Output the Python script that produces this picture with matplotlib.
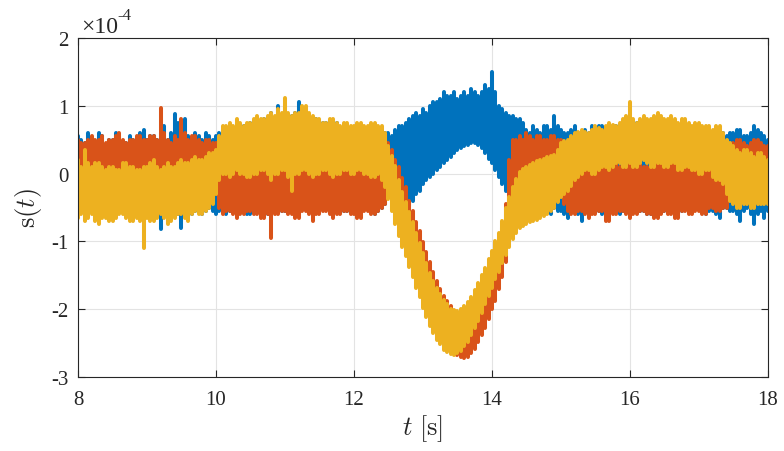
import numpy as np
import matplotlib
matplotlib.use("Agg")
import matplotlib.pyplot as plt

plt.rcParams['font.family'] = ['Liberation Serif', 'DejaVu Serif']
plt.rcParams['mathtext.fontset'] = 'cm'
plt.rcParams['axes.unicode_minus'] = False

# time axis, 8 s to 18 s in 0.05 s steps
t_start = 8.0
t_step = 0.05

# upper / lower swing of each noisy signal (units of 1e-4)
blue_hi = [
    0.55, 0.5, 0.45, 0.6, 0.5, 0.45, 0.6, 0.55, 0.4, 0.5,
    0.5, 0.6, 0.55, 0.45, 0.45, 0.55, 0.5, 0.5, 0.6, 0.65,
    0.5, 0.55, 0.55, 0.5, 0.6, 0.7, 0.5, 0.6, 0.88, 0.75,
    0.75, 0.8, 0.55, 0.5, 0.6, 0.55, 0.5, 0.6, 0.55, 0.5,
    0.55, 0.6, 0.65, 0.6, 0.7, 0.65, 0.75, 0.7, 0.7, 0.65,
    0.75, 0.7, 0.7, 0.75, 0.8, 0.75, 0.9, 0.8, 1.0, 0.8,
    0.8, 0.85, 0.85, 0.9, 1.05, 0.8, 0.8, 0.75, 0.75, 0.8,
    0.7, 0.75, 0.75, 0.7, 0.7, 0.75, 0.65, 0.7, 0.7, 0.65,
    0.65, 0.6, 0.7, 0.65, 0.6, 0.65, 0.7, 0.6, 0.55, 0.6,
    0.6, 0.55, 0.65, 0.7, 0.7, 0.75, 0.8, 0.85, 0.9, 0.85,
    0.95, 0.9, 1.0, 1.05, 1.05, 1.1, 1.2, 1.15, 1.15, 1.2,
    1.1, 1.15, 1.2, 1.15, 1.25, 1.2, 1.15, 1.2, 1.3, 1.25,
    1.5, 1.2, 1.0, 0.95, 0.9, 0.85, 0.85, 0.8, 0.8, 0.75,
    0.65, 0.6, 0.7, 0.65, 0.6, 0.7, 0.7, 0.65, 0.85, 0.7,
    0.65, 0.6, 0.6, 0.65, 0.7, 0.6, 0.55, 0.65, 0.6, 0.7,
    0.65, 0.7, 0.7, 0.65, 0.6, 0.7, 0.7, 0.65, 0.75, 0.7,
    0.7, 0.75, 0.75, 0.7, 0.7, 0.65, 0.65, 0.7, 0.7, 0.75,
    0.65, 0.7, 0.7, 0.65, 0.6, 0.65, 0.65, 0.6, 0.6, 0.65,
    0.6, 0.65, 0.55, 0.6, 0.6, 0.55, 0.5, 0.6, 0.55, 0.6,
    0.6, 0.65, 0.65, 0.55, 0.55, 0.6, 0.7, 0.65, 0.6, 0.55,
    0.5,
]
blue_lo = [
    -0.5, -0.55, -0.6, -0.5, -0.45, -0.55, -0.55, -0.5, -0.5, -0.6,
    -0.6, -0.5, -0.45, -0.55, -0.55, -0.5, -0.5, -0.6, -0.65, -0.55,
    -0.55, -0.5, -0.5, -0.6, -0.82, -0.55, -0.6, -0.5, -0.55, -0.6,
    -0.8, -0.55, -0.5, -0.6, -0.55, -0.5, -0.6, -0.55, -0.5, -0.55,
    -0.6, -0.55, -0.5, -0.6, -0.55, -0.5, -0.5, -0.55, -0.55, -0.6,
    -0.6, -0.55, -0.5, -0.55, -0.55, -0.6, -0.6, -0.5, -0.5, -0.55,
    -0.55, -0.5, -0.5, -0.6, -0.6, -0.5, -0.45, -0.5, -0.5, -0.55,
    -0.55, -0.5, -0.5, -0.45, -0.45, -0.5, -0.5, -0.55, -0.55, -0.5,
    -0.5, -0.55, -0.55, -0.5, -0.45, -0.5, -0.6, -0.55, -0.5, -0.45,
    -0.2, -0.25, -0.3, -0.35, -0.4, -0.45, -0.48, -0.4, -0.3, -0.25,
    -0.15, -0.1, -0.05, 0.0, 0.05, 0.1, 0.15, 0.2, 0.25, 0.3,
    0.35, 0.38, 0.4, 0.42, 0.45, 0.45, 0.42, 0.38, 0.3, 0.22,
    0.15, 0.05, -0.05, -0.15, -0.25, -0.28, -0.3, -0.4, -0.45, -0.5,
    -0.55, -0.5, -0.6, -0.55, -0.5, -0.55, -0.5, -0.6, -0.5, -0.55,
    -0.55, -0.6, -0.65, -0.5, -0.5, -0.6, -0.7, -0.55, -0.55, -0.5,
    -0.5, -0.55, -0.6, -0.55, -0.55, -0.5, -0.5, -0.6, -0.55, -0.5,
    -0.6, -0.55, -0.5, -0.55, -0.55, -0.6, -0.6, -0.5, -0.5, -0.55,
    -0.55, -0.5, -0.5, -0.6, -0.6, -0.55, -0.5, -0.55, -0.55, -0.5,
    -0.5, -0.55, -0.6, -0.55, -0.55, -0.6, -0.65, -0.5, -0.5, -0.55,
    -0.55, -0.6, -0.7, -0.55, -0.5, -0.6, -0.75, -0.6, -0.55, -0.65,
    -0.55,
]

orange_hi = [
    0.5, 0.45, 0.45, 0.5, 0.55, 0.5, 0.5, 0.55, 0.45, 0.5,
    0.5, 0.55, 0.6, 0.5, 0.45, 0.5, 0.5, 0.55, 0.55, 0.5,
    0.5, 0.55, 0.55, 0.5, 0.97, 0.6, 0.5, 0.45, 0.55, 0.5,
    0.8, 0.6, 0.5, 0.55, 0.55, 0.5, 0.45, 0.5, 0.5, 0.45,
    0.45, 0.3, 0.1, 0.15, 0.05, 0.1, 0.15, 0.1, 0.1, 0.05,
    0.05, 0.1, 0.1, 0.15, 0.2, 0.1, 0.05, 0.1, 0.1, 0.15,
    0.15, 0.1, 0.1, 0.05, 0.05, 0.1, 0.2, 0.15, 0.1, 0.05,
    0.05, 0.1, 0.15, 0.1, 0.1, 0.05, 0.05, 0.1, 0.15, 0.1,
    0.1, 0.05, 0.05, 0.1, 0.15, 0.1, 0.1, 0.15, 0.2, 0.3,
    0.45, 0.35, 0.2, 0.1, -0.06, -0.2, -0.41, -0.55, -0.71, -0.85,
    -1.01, -1.15, -1.31, -1.45, -1.59, -1.7, -1.8, -1.88, -1.96, -2.02,
    -2.1, -2.12, -2.1, -2.08, -2.0, -1.92, -1.82, -1.72, -1.62, -1.5,
    -1.37, -1.22, -1.07, -0.8, -0.45, 0.2, 0.5, 0.5, 0.55, 0.5,
    0.6, 0.55, 0.5, 0.55, 0.55, 0.5, 0.5, 0.55, 0.55, 0.5,
    0.5, 0.4, 0.25, 0.2, 0.15, 0.1, 0.1, 0.15, 0.15, 0.1,
    0.1, 0.15, 0.2, 0.1, 0.1, 0.15, 0.15, 0.1, 0.1, 0.15,
    0.15, 0.2, 0.2, 0.15, 0.1, 0.1, 0.15, 0.2, 0.2, 0.15,
    0.1, 0.1, 0.15, 0.2, 0.1, 0.15, 0.2, 0.1, 0.15, 0.1,
    0.1, 0.15, 0.15, 0.1, 0.1, 0.2, 0.2, 0.25, 0.3, 0.35,
    0.45, 0.5, 0.5, 0.45, 0.4, 0.45, 0.5, 0.5, 0.45, 0.4,
    0.4,
]
orange_lo = [
    -0.2, -0.15, -0.15, -0.2, -0.25, -0.1, -0.1, -0.2, -0.2, -0.15,
    -0.15, -0.2, -0.25, -0.2, -0.2, -0.1, -0.1, -0.15, -0.2, -0.2,
    -0.15, -0.2, -0.25, -0.2, -0.2, -0.1, -0.1, -0.15, -0.2, -0.15,
    -0.15, -0.2, -0.2, -0.1, -0.1, -0.15, -0.2, -0.2, -0.15, -0.2,
    -0.3, -0.5, -0.6, -0.55, -0.55, -0.6, -0.65, -0.6, -0.6, -0.55,
    -0.55, -0.6, -0.6, -0.65, -0.65, -0.6, -0.95, -0.6, -0.6, -0.55,
    -0.55, -0.6, -0.6, -0.65, -0.65, -0.55, -0.55, -0.6, -0.7, -0.6,
    -0.6, -0.55, -0.55, -0.6, -0.65, -0.6, -0.6, -0.55, -0.55, -0.6,
    -0.6, -0.65, -0.65, -0.55, -0.55, -0.6, -0.6, -0.55, -0.5, -0.45,
    -0.25, -0.35, -0.53, -0.7, -0.91, -1.05, -1.22, -1.38, -1.52, -1.68,
    -1.82, -1.98, -2.12, -2.25, -2.36, -2.45, -2.55, -2.58, -2.62, -2.65,
    -2.68, -2.7, -2.72, -2.7, -2.65, -2.58, -2.48, -2.38, -2.28, -2.15,
    -2.0, -1.88, -1.7, -1.53, -1.3, -1.0, -0.7, -0.5, -0.35, -0.3,
    -0.25, -0.2, -0.2, -0.25, -0.3, -0.25, -0.2, -0.25, -0.3, -0.35,
    -0.3, -0.45, -0.55, -0.6, -0.6, -0.55, -0.55, -0.6, -0.65, -0.6,
    -0.6, -0.55, -0.55, -0.7, -0.7, -0.6, -0.6, -0.55, -0.55, -0.6,
    -0.65, -0.6, -0.6, -0.55, -0.55, -0.6, -0.6, -0.65, -0.65, -0.6,
    -0.55, -0.6, -0.6, -0.65, -0.65, -0.55, -0.55, -0.6, -0.6, -0.55,
    -0.55, -0.6, -0.6, -0.5, -0.5, -0.55, -0.55, -0.5, -0.5, -0.3,
    -0.15, -0.1, -0.1, -0.2, -0.2, -0.15, -0.15, -0.1, -0.1, -0.15,
    -0.1,
]

yellow_hi = [
    0.2, 0.1, 0.35, 0.15, 0.1, 0.15, 0.15, 0.1, 0.05, 0.1,
    0.1, 0.05, 0.05, 0.15, 0.15, 0.1, 0.1, 0.05, 0.05, 0.1,
    0.1, 0.15, 0.2, 0.1, 0.05, 0.1, 0.15, 0.1, 0.1, 0.15,
    0.2, 0.15, 0.15, 0.2, 0.25, 0.2, 0.2, 0.25, 0.3, 0.3,
    0.35, 0.55, 0.7, 0.7, 0.75, 0.7, 0.8, 0.75, 0.7, 0.75,
    0.75, 0.8, 0.85, 0.8, 0.8, 0.85, 0.9, 0.85, 0.95, 0.9,
    1.12, 0.9, 0.85, 0.9, 0.9, 1.0, 1.0, 0.9, 0.85, 0.8,
    0.8, 0.75, 0.75, 0.8, 0.8, 0.75, 0.7, 0.75, 0.75, 0.7,
    0.7, 0.75, 0.75, 0.7, 0.7, 0.75, 0.75, 0.7, 0.7, 0.6,
    0.41, 0.26, 0.11, -0.1, -0.27, -0.42, -0.57, -0.72, -0.87, -1.02,
    -1.17, -1.32, -1.47, -1.59, -1.69, -1.78, -1.87, -1.93, -1.99, -2.01,
    -2.02, -1.99, -1.95, -1.89, -1.82, -1.72, -1.62, -1.5, -1.39, -1.26,
    -1.14, -1.0, -0.87, -0.7, -0.5, -0.35, -0.2, -0.08, 0.03, 0.07,
    0.1, 0.12, 0.15, 0.18, 0.2, 0.22, 0.25, 0.26, 0.28, 0.35,
    0.45, 0.48, 0.5, 0.55, 0.6, 0.62, 0.65, 0.62, 0.6, 0.65,
    0.7, 0.68, 0.65, 0.7, 0.75, 0.72, 0.7, 0.75, 0.8, 0.85,
    1.05, 0.8, 0.75, 0.8, 0.85, 0.8, 0.8, 0.85, 0.9, 0.85,
    0.8, 0.8, 0.85, 0.8, 0.75, 0.8, 0.8, 0.75, 0.7, 0.75,
    0.75, 0.7, 0.7, 0.7, 0.65, 0.7, 0.7, 0.6, 0.5, 0.45,
    0.4, 0.35, 0.3, 0.35, 0.35, 0.3, 0.25, 0.3, 0.3, 0.25,
    0.2,
]
yellow_lo = [
    -0.65, -0.6, -0.7, -0.65, -0.6, -0.7, -0.75, -0.65, -0.65, -0.7,
    -0.7, -0.65, -0.6, -0.6, -0.65, -0.7, -0.7, -0.65, -0.7, -1.1,
    -0.65, -0.7, -0.7, -0.65, -0.6, -0.65, -0.75, -0.7, -0.65, -0.6,
    -0.6, -0.65, -0.7, -0.6, -0.55, -0.6, -0.6, -0.55, -0.5, -0.45,
    -0.3, -0.1, 0.0, 0.0, -0.05, 0.0, 0.05, 0.0, 0.0, -0.05,
    -0.05, 0.0, 0.0, 0.05, 0.05, 0.0, -0.1, 0.0, 0.0, 0.05,
    0.05, -0.05, -0.25, 0.0, 0.0, 0.05, 0.05, 0.0, -0.05, 0.0,
    0.0, 0.05, 0.05, 0.0, -0.05, 0.0, 0.0, 0.05, 0.05, 0.0,
    0.0, 0.05, 0.05, 0.0, 0.0, -0.05, -0.05, 0.0, -0.1, -0.2,
    -0.38, -0.55, -0.75, -0.92, -1.08, -1.22, -1.38, -1.52, -1.68, -1.82,
    -1.98, -2.12, -2.25, -2.35, -2.45, -2.52, -2.6, -2.63, -2.66, -2.67,
    -2.65, -2.62, -2.55, -2.48, -2.38, -2.28, -2.18, -2.05, -1.93, -1.8,
    -1.68, -1.55, -1.45, -1.32, -1.2, -1.08, -0.97, -0.88, -0.8, -0.78,
    -0.75, -0.72, -0.7, -0.68, -0.65, -0.62, -0.6, -0.55, -0.5, -0.42,
    -0.35, -0.3, -0.25, -0.18, -0.1, -0.05, 0.0, 0.05, 0.05, 0.0,
    0.0, 0.05, 0.1, 0.1, 0.05, 0.1, 0.15, 0.15, 0.1, 0.1,
    0.15, 0.1, 0.1, 0.15, 0.2, 0.15, 0.1, 0.1, 0.15, 0.15,
    0.1, 0.1, 0.15, 0.15, 0.05, 0.05, 0.1, 0.1, 0.05, 0.05,
    0.0, 0.0, 0.05, 0.05, -0.05, -0.1, -0.1, -0.15, -0.3, -0.4,
    -0.45, -0.5, -0.5, -0.45, -0.45, -0.5, -0.5, -0.45, -0.45, -0.45,
    -0.45,
]

t = t_start + t_step * np.arange(len(blue_hi))

fig = plt.figure(figsize=(7.84, 4.52), dpi=100)
ax = fig.add_axes([0.0995, 0.1637, 0.88, 0.75])

# dense noise drawn as vertical strokes between the swings;
# a hard-edged layer fills the seams, a smooth layer on top rounds the edges
series = [(blue_lo, blue_hi, '#0072BD'),
          (orange_lo, orange_hi, '#D95319'),
          (yellow_lo, yellow_hi, '#EDB120')]
for lo, hi, col in series:
    ax.vlines(t, lo, hi, color=col, lw=2.6, antialiased=False)
    ax.vlines(t, lo, hi, color=col, lw=2.9, capstyle='round')

ax.set_xlim(8, 18)
ax.set_ylim(-3, 2)
ax.set_xticks([8, 10, 12, 14, 16, 18])
ax.set_yticks([-3, -2, -1, 0, 1, 2])
ax.grid(True, color='#e3e3e3', lw=0.8)
ax.set_axisbelow(True)
ax.tick_params(direction='in', top=True, right=True, labelsize=15,
               colors='#262626', length=5, width=0.8, pad=7)
ax.tick_params(axis='x', pad=9)
for sp in ax.spines.values():
    sp.set_color('#262626')
    sp.set_linewidth(0.8)

ax.set_xlabel(r'$t\ [\mathrm{s}]$', fontsize=19, color='#262626', labelpad=3)
ax.set_ylabel(r'$\mathrm{s}(t)$', fontsize=19, color='#262626', labelpad=5)

fig.text(0.103, 0.927, '×10', fontsize=17, color='#262626', va='baseline')
fig.text(0.150, 0.955, '-4', fontsize=12, color='#262626', va='baseline')

fig.savefig('out.png', dpi=100)
